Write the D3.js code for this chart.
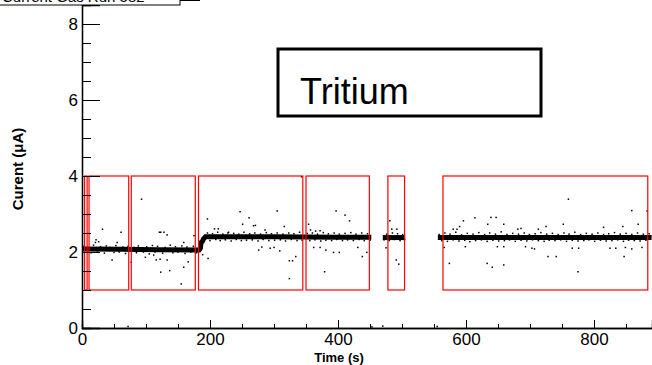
<!DOCTYPE html>
<html>
<head>
<meta charset="utf-8">
<script src="https://cdn.jsdelivr.net/npm/d3@7"></script>
<style>
  body { margin: 0; background: #fff; }
  svg { display: block; font-family: "Liberation Sans", Arial, Helvetica, sans-serif; }
  .axis path, .axis line { stroke: #000; }
  .axis text { font-size: 17px; fill: #000; }
</style>
</head>
<body>
<div class="container"></div>
<script>
const WIDTH = 652,
      HEIGHT = 365;

// run windows (s), current range of each box is 1..4 uA
var boxStart = [4, 11, 77, 182, 350, 478, 564];
var boxEnd   = [8, 73, 177, 345, 449, 504, 884];
var boxLow = 1, boxHigh = 4;

// centre of the dense band of readings, per beam-on stretch
var bandT = [[0, 60, 120, 183, 185, 186, 188, 190, 193, 300, 400, 452],
             [470, 505],
             [556, 700, 890]];
var bandV = [[2.08, 2.07, 2.06, 2.05, 2.1, 2.25, 2.28, 2.35, 2.40, 2.40, 2.39, 2.39],
             [2.38, 2.38],
             [2.38, 2.38, 2.38]];

// readings just off the band
var nearT = [3,9,14,18,24,29,35,38,44,50,53,58,64,68,72,81,85,88,96,101,105,110,114,118,126,130,138,142,146,150,156,161,164,170,174,179,
  196,200,204,209,212,216,220,224,228,233,237,241,245,249,253,257,262,266,270,275,279,283,288,292,296,301,305,310,314,318,323,327,331,336,340,344,
  352,356,360,364,368,373,377,381,385,390,394,398,402,407,411,415,420,424,428,433,437,441,446,450,
  472,476,480,485,488,493,497,501,504,
  558,562,567,571,575,580,584,589,593,598,602,606,611,615,620,624,629,633,637,642,646,651,655,660,664,668,673,677,682,686,691,695,699,704,708,713,
  717,722,726,730,735,739,744,748,753,757,761,766,770,775,779,784,788,792,797,801,806,810,815,819,823,828,832,837,841,846,850,854,859,863,868,872,877,881,886];
var nearV = [2.15,2.12,1.98,2.18,2.0,2.14,1.97,2.16,2.12,1.99,2.17,2.0,2.13,1.96,2.15,2.12,1.98,2.16,2.0,2.14,1.95,2.17,2.0,2.15,1.97,2.12,2.18,1.98,2.14,2.0,2.16,1.96,2.13,2.0,2.15,1.98,
  2.5,2.3,2.48,2.33,2.52,2.3,2.47,2.32,2.5,2.29,2.49,2.33,2.47,2.3,2.52,2.31,2.48,2.32,2.5,2.29,2.47,2.33,2.51,2.3,2.48,2.31,2.5,2.32,2.47,2.29,2.5,2.33,2.48,2.3,2.52,2.31,
  2.49,2.3,2.5,2.32,2.47,2.29,2.51,2.31,2.48,2.3,2.5,2.33,2.47,2.3,2.49,2.32,2.51,2.3,2.47,2.33,2.5,2.3,2.48,2.31,
  2.32,2.47,2.3,2.5,2.33,2.48,2.3,2.46,2.32,
  2.46,2.3,2.5,2.28,2.47,2.32,2.52,2.29,2.45,2.31,2.49,2.27,2.47,2.3,2.51,2.32,2.46,2.28,2.5,2.31,2.47,2.29,2.53,2.3,2.46,2.32,2.49,2.28,2.47,2.31,2.5,2.29,2.46,2.32,2.48,2.3,
  2.51,2.28,2.47,2.31,2.49,2.3,2.46,2.32,2.5,2.28,2.47,2.31,2.52,2.29,2.46,2.3,2.49,2.32,2.47,2.28,2.5,2.31,2.46,2.29,2.48,2.3,2.51,2.32,2.47,2.28,2.49,2.31,2.46,2.3,2.5,2.29,2.47,2.31,2.48];

// scattered readings
var outT = [21,22,26,32,47,55,61,77,93,99,112,116,121,123,122,123,128,133,133,137,155,159,159,166,175,
  188.5,197,196,207,213,229,247,251,261,268,271,276,281,286,294,300,305,309,316,324,329,334,324,343,
  354,357,362,365,372,372,379,381,393,397,402,411,418,431,438,445,
  475,481,484,492,491,495,
  566,574,580,586,590,596,599,614,633,634,639,641,647,649,659,659,659,681,686,693,703,707,713,725,728,741,752,760,766,775,776,815,825,834,845,847,849,859,859,869,875,883,
  72,453,470,555];
var outV = [2.25,2.32,2.27,2.6,1.79,2.25,2.52,1.73,3.39,1.86,1.92,1.79,2.52,2.52,1.81,1.47,2.52,2.45,1.79,1.51,1.16,1.6,2.25,1.74,2.43,
  1.93,1.83,2.87,2.61,2.61,2.52,3.06,2.73,2.9,2.69,2.7,2.05,2.13,2.58,2.1,2.12,3.08,2.03,2.67,1.77,1.77,1.88,1.3,3.98,
  2.73,2.58,2.12,2.55,2.56,2.12,1.48,2.05,1.99,3.08,1.99,2.97,2.82,2.12,1.88,1.99,
  2.11,2.82,2.6,2.6,1.79,1.68,
  2.12,1.7,2.6,2.6,2.67,2.82,2.14,2.9,1.7,2.73,2.91,1.6,2.91,2.14,2.73,1.66,2.14,2.6,2.62,2.14,2.1,2.08,2.6,2.67,1.88,1.88,2.73,3.39,2.1,1.48,2.1,2.65,2.1,2.1,2.67,1.88,2.12,3.09,2.08,2.73,2.12,3.08,
  0.04,0.03,0.05,0.04];

var xTicks = [0, 200, 400, 600, 800];
var yTicks = [0, 2, 4, 6, 8];

var x = d3.scaleLinear().domain([0, 890.6]).range([82, 652]);
var y = d3.scaleLinear().domain([0, 8.5]).range([328, 5]);

var svg = d3.select('.container').append('svg')
    .attr('width', WIDTH).attr('height', HEIGHT);

// data
var pts = [];
nearT.forEach(function(t, i) { pts.push([t, nearV[i]]); });
outT.forEach(function(t, i) { pts.push([t, outV[i]]); });

var line = d3.line().x(function(d) { return x(d[0]); }).y(function(d) { return y(d[1]); });
bandT.forEach(function(ts, k) {
  svg.append('path')
      .datum(ts.map(function(t, i) { return [t, bandV[k][i]]; }))
      .attr('d', line)
      .attr('fill', 'none')
      .attr('stroke', '#000')
      .attr('stroke-width', 5);
});

svg.append('g').selectAll('rect').data(pts).join('rect')
    .attr('x', function(d) { return x(d[0]) - 0.75; })
    .attr('y', function(d) { return y(d[1]) - 0.75; })
    .attr('width', 1.5).attr('height', 1.5)
    .attr('fill', '#000');

// run boxes
svg.append('g').selectAll('rect').data(boxStart).join('rect')
    .attr('x', function(d) { return x(d); })
    .attr('y', y(boxHigh))
    .attr('width', function(d, i) { return x(boxEnd[i]) - x(d); })
    .attr('height', y(boxLow) - y(boxHigh))
    .attr('fill', 'none')
    .attr('stroke', '#f00')
    .attr('stroke-width', 1.2);

// axes, ROOT style ticks pointing inward
var yMinor = d3.axisLeft(y).tickValues(d3.range(0, 8.51, 0.5)).tickSize(-9).tickFormat('');
var yMajor = d3.axisLeft(y).tickValues(yTicks).tickSize(-18).tickPadding(5).tickFormat(d3.format('d'));
var xMinor = d3.axisBottom(x).tickValues(d3.range(0, 890, 50)).tickSize(-4).tickFormat('');
var xMajor = d3.axisBottom(x).tickValues(xTicks).tickSize(-8).tickPadding(5).tickFormat(d3.format('d'));

svg.append('g').attr('class', 'axis').attr('transform', 'translate(82,0)').call(yMinor);
var ya = svg.append('g').attr('class', 'axis').attr('transform', 'translate(82,0)').call(yMajor);
ya.selectAll('text').attr('x', -4);
svg.append('g').attr('class', 'axis').attr('transform', 'translate(0,328)').call(xMinor);
var xa = svg.append('g').attr('class', 'axis').attr('transform', 'translate(0,328)').call(xMajor);
svg.selectAll('.axis path').attr('stroke-width', 1.3);

svg.append('text')
    .attr('transform', 'translate(23,169) rotate(-90)')
    .attr('text-anchor', 'middle')
    .style('font-size', '15px').style('font-weight', 'bold')
    .text('Curent (\u03BCA)');

svg.append('text')
    .attr('x', 339).attr('y', 362)
    .attr('text-anchor', 'middle')
    .style('font-size', '13px').style('font-weight', 'bold')
    .text('Time (s)');

// title pave, cut off at the top
svg.append('rect').attr('x', -2).attr('y', -20).attr('width', 182).attr('height', 25)
    .attr('fill', '#fff').attr('stroke', '#000').attr('stroke-width', 1);
svg.append('line').attr('x1', 180).attr('x2', 200).attr('y1', 0.5).attr('y2', 0.5)
    .attr('stroke', '#000');
svg.append('text').attr('x', 2).attr('y', 2)
    .style('font-size', '15px')
    .text('Current Gas Run 582');

// label pave
svg.append('rect').attr('x', 278).attr('y', 49).attr('width', 263).attr('height', 67)
    .attr('fill', '#fff').attr('stroke', '#000').attr('stroke-width', 3);
svg.append('text').attr('x', 300).attr('y', 104)
    .style('font-size', '36px')
    .text('Tritium');
</script>
</body>
</html>
